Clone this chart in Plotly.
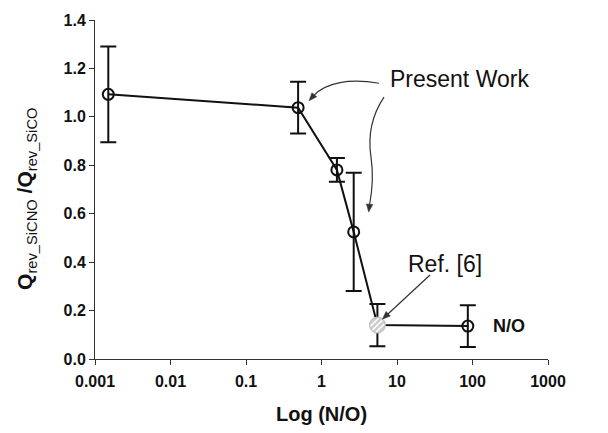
import math
import plotly.graph_objects as go

# Measured points (present work)
n_o_ratio = [0.0015, 0.49, 1.6, 2.67, 86.7]
q_ratio = [1.093, 1.038, 0.781, 0.525, 0.136]
q_error = [0.198, 0.107, 0.049, 0.244, 0.086]

# Literature point, Ref. [6]
ref_n_o = [5.5]
ref_q = [0.140]
ref_error = [0.087]

x_tick_vals = [0.001, 0.01, 0.1, 1, 10, 100, 1000]
x_tick_text = ["0.001", "0.01", "0.1", "1", "10", "100", "1000"]
y_tick_vals = [0.0, 0.2, 0.4, 0.6, 0.8, 1.0, 1.2, 1.4]

FONT = "Liberation Sans, Arial, sans-serif"
INK = "#111111"
ARROW = "#333333"

# plot area in pixels
L, T, W, H = 95, 16, 453, 343
FIG_W, FIG_H = 608, 433
X_RANGE = (-3, 3)
Y_RANGE = (0, 1.4)


def data_px(x, y):
    px = L + (math.log10(x) - X_RANGE[0]) / (X_RANGE[1] - X_RANGE[0]) * W
    py = T + H - (y - Y_RANGE[0]) / (Y_RANGE[1] - Y_RANGE[0]) * H
    return px, py


def paper(px, py):
    return (px - L) / W, (T + H - py) / H


def fmt(pt):
    p = paper(*pt)
    return f"{p[0]:.4f},{p[1]:.4f}"


def curve_path(points):
    """Cubic Bezier path in paper coordinates from pixel control points."""
    s = "M " + fmt(points[0])
    for i in range(1, len(points), 3):
        s += " C " + " ".join(fmt(points[j]) for j in (i, i + 1, i + 2))
    return s


def arrow_head(tip, tail, length=8.0, half=3.2):
    """Filled triangle at tip, pointing away from tail; returns (shape, base point)."""
    dx, dy = tip[0] - tail[0], tip[1] - tail[1]
    n = math.hypot(dx, dy)
    ux, uy = dx / n, dy / n
    bx, by = tip[0] - ux * length, tip[1] - uy * length
    p1 = (bx - uy * half, by + ux * half)
    p2 = (bx + uy * half, by - ux * half)
    path = f"M {fmt(tip)} L {fmt(p1)} L {fmt(p2)} Z"
    shape = dict(type="path", xref="paper", yref="paper", path=path,
                 fillcolor=ARROW, line=dict(color=ARROW, width=0.5))
    return shape, (bx + ux * 1.5, by + uy * 1.5)


# all points joined in order of N/O
all_pts = sorted(zip(n_o_ratio + ref_n_o, q_ratio + ref_q))
line_x = [p[0] for p in all_pts]
line_y = [p[1] for p in all_pts]

fig = go.Figure()

fig.add_trace(go.Scatter(
    x=line_x, y=line_y, mode="lines",
    line=dict(color=INK, width=2), hoverinfo="skip", showlegend=False,
))

fig.add_trace(go.Scatter(
    x=n_o_ratio, y=q_ratio, mode="markers",
    marker=dict(symbol="circle-open", size=11, color=INK, line=dict(width=2, color=INK)),
    error_y=dict(type="data", array=q_error, visible=True, color=INK, thickness=2, width=8),
    showlegend=False,
))

fig.add_trace(go.Scatter(
    x=ref_n_o, y=ref_q, mode="markers",
    marker=dict(symbol="circle", size=16, color="#cdcdcd", line=dict(width=1, color="#bdbdbd")),
    error_y=dict(type="data", array=ref_error, visible=True, color=INK, thickness=2, width=8),
    showlegend=False,
))

shapes = []
annotations = []

# white hatching across the literature-point marker
rx, ry = data_px(ref_n_o[0], ref_q[0])
r_hatch = 7.0
for d in (-4.0, 0.0, 4.0):
    half_chord = math.sqrt(max(r_hatch ** 2 - d ** 2, 0.0))
    cx, cy = rx + d / math.sqrt(2), ry + d / math.sqrt(2)
    a = (cx - half_chord / math.sqrt(2), cy + half_chord / math.sqrt(2))
    b = (cx + half_chord / math.sqrt(2), cy - half_chord / math.sqrt(2))
    pa, pb = paper(*a), paper(*b)
    shapes.append(dict(type="line", xref="paper", yref="paper",
                       x0=pa[0], y0=pa[1], x1=pb[0], y1=pb[1],
                       line=dict(color="white", width=1.5)))

# arrow: "Present Work" -> second point
p2x, p2y = data_px(n_o_ratio[1], q_ratio[1])
tip1 = (p2x + 11, p2y - 7)
head, base = arrow_head(tip1, (tip1[0] + 6, tip1[1] - 7))
shapes.append(dict(
    type="path", xref="paper", yref="paper",
    path=curve_path([(379, 80), (350, 75), (326, 79), base]),
    line=dict(color=ARROW, width=1.2),
))
shapes.append(head)

# arrow: "Present Work" -> fourth point
p4x, p4y = data_px(n_o_ratio[3], q_ratio[3])
tip2 = (p4x + 15, p4y - 20)
head, base = arrow_head(tip2, (tip2[0] + 1, tip2[1] - 9))
shapes.append(dict(
    type="path", xref="paper", yref="paper",
    path=curve_path([(384, 94), (370, 115), (368, 135), (371, 155),
                     (374, 175), (372, 190), base]),
    line=dict(color=ARROW, width=1.2),
))
shapes.append(head)

# arrow: "Ref. [6]" -> literature point
tip3 = (rx + 5, ry - 6)
tail3 = (430, 274)
head, base = arrow_head(tip3, tail3)
p_tail, p_base = paper(*tail3), paper(*base)
shapes.append(dict(type="line", xref="paper", yref="paper",
                   x0=p_tail[0], y0=p_tail[1], x1=p_base[0], y1=p_base[1],
                   line=dict(color=ARROW, width=1.2)))
shapes.append(head)

# text labels
annotations.append(dict(
    x=paper(388, 76)[0], y=paper(388, 76)[1], xref="paper", yref="paper",
    text="Present Work", showarrow=False, xanchor="left", yanchor="middle",
    font=dict(family=FONT, size=23, color=INK),
))
annotations.append(dict(
    x=paper(406, 263)[0], y=paper(406, 263)[1], xref="paper", yref="paper",
    text="Ref. [6]", showarrow=False, xanchor="left", yanchor="middle",
    font=dict(family=FONT, size=23, color=INK),
))
nx, ny = data_px(n_o_ratio[4], q_ratio[4])
annotations.append(dict(
    x=paper(nx + 23, ny)[0], y=paper(nx + 23, ny)[1], xref="paper", yref="paper",
    text="<b>N/O</b>", showarrow=False, xanchor="left", yanchor="middle",
    font=dict(family=FONT, size=18, color=INK),
))

# axis titles
annotations.append(dict(
    x=0.5, y=paper(0, 415)[1], xref="paper", yref="paper",
    text="<b>Log (N/O)</b>", showarrow=False, xanchor="center", yanchor="middle",
    font=dict(family=FONT, size=20, color=INK),
))
annotations.append(dict(
    x=paper(26, 0)[0], y=paper(0, 197)[1], xref="paper", yref="paper",
    text="<b>Q</b><sub>rev_SiCNO</sub><b> /Q</b><sub>rev_SiCO</sub>",
    textangle=-90, showarrow=False, xanchor="center", yanchor="middle",
    font=dict(family=FONT, size=21, color=INK),
))

fig.update_layout(
    width=FIG_W, height=FIG_H,
    margin=dict(l=L, r=FIG_W - L - W, t=T, b=FIG_H - T - H),
    paper_bgcolor="white", plot_bgcolor="white",
    shapes=shapes, annotations=annotations,
    font=dict(family=FONT, color=INK),
)
fig.update_xaxes(
    type="log", range=list(X_RANGE), tickvals=x_tick_vals, ticktext=x_tick_text,
    ticks="outside", ticklen=5, tickwidth=1, tickcolor="#333",
    showline=True, linecolor="#333", linewidth=1, showgrid=False, zeroline=False,
    ticklabelstandoff=3,
    tickfont=dict(family=FONT, size=16, color=INK, weight="bold"),
)
fig.update_yaxes(
    range=list(Y_RANGE), tickvals=y_tick_vals, tickformat=".1f",
    ticks="outside", ticklen=5, tickwidth=1, tickcolor="#333",
    showline=True, linecolor="#333", linewidth=1, showgrid=False, zeroline=False,
    tickfont=dict(family=FONT, size=16, color=INK, weight="bold"),
)

fig.write_html("out.html")
